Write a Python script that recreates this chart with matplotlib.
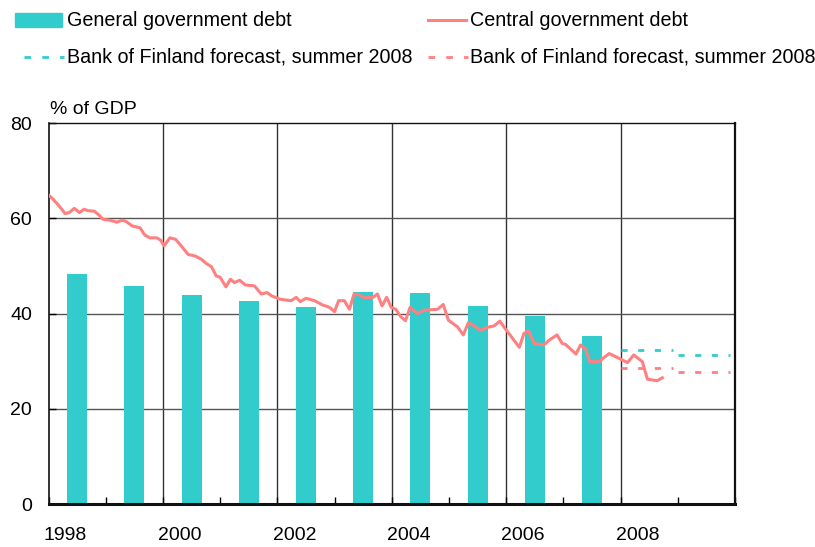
import numpy as np
import matplotlib
matplotlib.use("Agg")
import matplotlib.pyplot as plt
from matplotlib.lines import Line2D
from matplotlib.patches import Rectangle

plt.rcParams['font.family'] = ['Liberation Sans', 'DejaVu Sans']

CYAN = '#33CCCC'
SALMON = '#FF8080'

# general government debt, annual, % of GDP
years = [1998, 1999, 2000, 2001, 2002, 2003, 2004, 2005, 2006, 2007]
general_debt = [48.3, 45.8, 43.9, 42.6, 41.4, 44.5, 44.3, 41.6, 39.4, 35.3]

# central government debt, monthly-ish observations (decimal year, % of GDP)
central_t = [1998.00, 1998.08, 1998.17, 1998.29, 1998.36, 1998.45, 1998.54, 1998.62,
             1998.69, 1998.80, 1998.88, 1998.95, 1999.07, 1999.19, 1999.29, 1999.36,
             1999.46, 1999.60, 1999.68, 1999.77, 1999.89, 1999.96, 2000.02, 2000.12,
             2000.22, 2000.32, 2000.44, 2000.56, 2000.67, 2000.76, 2000.85, 2000.93,
             2001.00, 2001.10, 2001.18, 2001.25, 2001.34, 2001.44, 2001.60, 2001.72,
             2001.82, 2001.90, 2002.05, 2002.24, 2002.33, 2002.40, 2002.50, 2002.65,
             2002.79, 2002.91, 2003.00, 2003.07, 2003.17, 2003.26, 2003.34, 2003.42,
             2003.52, 2003.67, 2003.75, 2003.83, 2003.91, 2003.99, 2004.07, 2004.16,
             2004.24, 2004.32, 2004.45, 2004.57, 2004.80, 2004.90, 2004.99, 2005.15,
             2005.25, 2005.34, 2005.44, 2005.56, 2005.67, 2005.79, 2005.89, 2005.96,
             2006.08, 2006.23, 2006.31, 2006.39, 2006.49, 2006.66, 2006.75, 2006.89,
             2006.98, 2007.04, 2007.22, 2007.30, 2007.39, 2007.46, 2007.62, 2007.80,
             2007.94, 2008.12, 2008.23, 2008.38, 2008.47, 2008.64, 2008.73]
central_debt = [64.9, 64.0, 62.8, 61.0, 61.2, 62.1, 61.2, 61.9,
                61.6, 61.5, 60.7, 59.8, 59.6, 59.2, 59.6, 59.3,
                58.4, 58.0, 56.5, 55.9, 55.9, 55.4, 54.2, 55.9,
                55.6, 54.2, 52.4, 52.1, 51.4, 50.5, 49.8, 47.9,
                47.6, 45.6, 47.2, 46.5, 47.0, 46.0, 45.8, 44.1,
                44.4, 43.7, 43.0, 42.7, 43.4, 42.5, 43.2, 42.7,
                41.8, 41.3, 40.4, 42.7, 42.7, 40.9, 44.1, 44.0,
                43.3, 43.4, 44.1, 41.6, 43.4, 41.3, 40.9, 39.3,
                38.5, 41.3, 40.0, 40.7, 40.9, 41.9, 38.6, 37.2,
                35.5, 38.1, 37.4, 36.4, 37.1, 37.4, 38.4, 37.2,
                35.3, 32.9, 35.8, 36.4, 33.7, 33.4, 34.4, 35.5,
                33.7, 33.5, 31.5, 33.4, 32.5, 29.9, 29.9, 31.6,
                30.8, 29.7, 31.3, 29.9, 26.2, 25.9, 26.5]

# Bank of Finland forecast, summer 2008
forecast_years = [2008, 2009]
forecast_general = [32.3, 31.3]
forecast_central = [28.5, 27.7]

fig = plt.figure(figsize=(8.15, 5.47), dpi=100)
ax = fig.add_axes([0.0596, 0.0786, 0.8422, 0.6964])

# annual bars sit in the middle of each year
ax.bar(np.array(years) + 0.5, general_debt, width=0.35, color=CYAN, zorder=2)
ax.plot(central_t, central_debt, color=SALMON, lw=2.2, zorder=3,
        solid_joinstyle='round')

# each forecast year is a flat dashed segment over that year
dash = (0, (2.2, 3.8))
for yrs, vals, col in ((forecast_years, forecast_general, CYAN),
                       (forecast_years, forecast_central, SALMON)):
    for y, v in zip(yrs, vals):
        ax.plot([y, y + 11 / 12], [v, v], color=col, lw=2, ls=dash, zorder=3)

ax.set_xlim(1998, 2010)
ax.set_ylim(0, 80)
ax.set_yticks([0, 20, 40, 60, 80])
ax.set_xticks(range(1998, 2011))
ax.set_xticklabels([])
# year labels start just left of their gridline
for y in range(1998, 2010, 2):
    ax.annotate(str(y), xy=(y, 0), xycoords=ax.get_xaxis_transform(),
                xytext=(-3.5, -16.5), textcoords='offset points',
                ha='left', va='top', fontsize=14)

ax.tick_params(axis='x', direction='in', length=5, width=1)
ax.tick_params(axis='y', direction='in', length=5, width=1, pad=12, labelsize=14)

for x in range(2000, 2010, 2):
    ax.axvline(x, color='#333333', lw=1, zorder=1)
for y in (20, 40, 60):
    ax.axhline(y, color='#555555', lw=1, zorder=1)

for side, lw in (('left', 1.2), ('top', 1.0), ('right', 1.6), ('bottom', 2.2)):
    ax.spines[side].set_linewidth(lw)
    ax.spines[side].set_color('#111111')

ax.annotate('% of GDP', xy=(0, 1), xycoords='axes fraction', xytext=(1, 4),
            textcoords='offset points', ha='left', va='bottom', fontsize=14)

# legend drawn by hand in figure pixels
W, H = 815, 547


def fx_(px):
    return px / W


def fy_(py):
    return 1 - py / H


fig.add_artist(Rectangle((fx_(15), fy_(27)), fx_(47), 14 / H, color=CYAN,
                         transform=fig.transFigure))
fig.add_artist(Line2D([fx_(428), fx_(466)], [fy_(20), fy_(20)], color=SALMON, lw=2.2,
                      transform=fig.transFigure))
fig.add_artist(Line2D([fx_(24), fx_(64)], [fy_(57), fy_(57)], color=CYAN, lw=2,
                      ls=(0, (2.4, 4.0)), transform=fig.transFigure))
fig.add_artist(Line2D([fx_(428), fx_(468)], [fy_(57), fy_(57)], color=SALMON, lw=2,
                      ls=(0, (2.4, 4.0)), transform=fig.transFigure))
for x, y, s in ((67, 20, 'General government debt'),
                (470, 20, 'Central government debt'),
                (67, 57, 'Bank of Finland forecast, summer 2008'),
                (470, 57, 'Bank of Finland forecast, summer 2008')):
    fig.text(fx_(x), fy_(y), s, ha='left', va='center', fontsize=14.2)

fig.savefig('out.png', dpi=100)
